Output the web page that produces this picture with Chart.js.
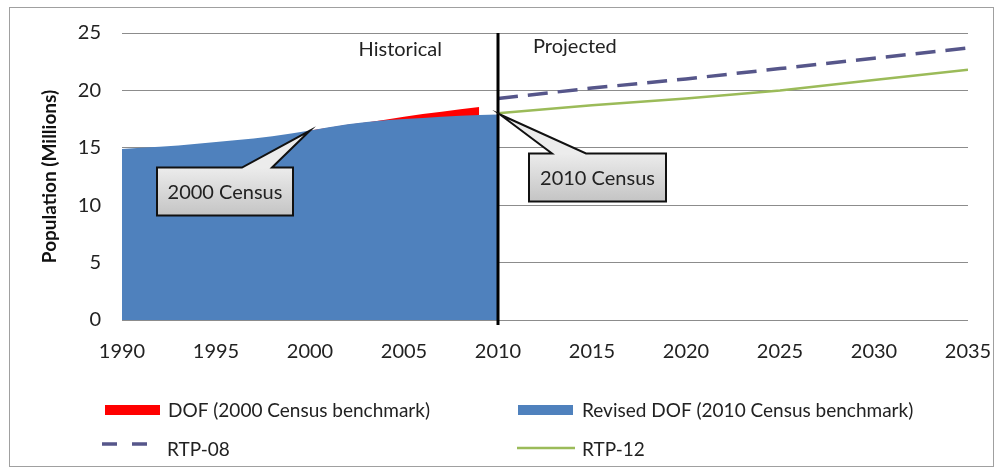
<!DOCTYPE html>
<html>
<head>
<meta charset="utf-8">
<script src="https://cdn.jsdelivr.net/npm/chart.js@4/dist/chart.umd.min.js"></script>
<style>
  body { margin: 0; background: #fff; }
  #wrap { width: 1001px; height: 475px; position: relative; }
</style>
</head>
<body>
<div id="wrap"><canvas id="popChart"></canvas></div>
<script>
// *** DATA ***
var histYears = [1990, 1991, 1992, 1993, 1994, 1995, 1996, 1997, 1998, 1999, 2000,
                 2001, 2002, 2003, 2004, 2005, 2006, 2007, 2008, 2009, 2010];
var revisedDof = [14.9, 15.0, 15.1, 15.2, 15.35, 15.5, 15.65, 15.8, 16.0, 16.25, 16.5,
                  16.8, 17.05, 17.25, 17.4, 17.5, 17.6, 17.7, 17.8, 17.85, 17.9];
var dofYears = [2000, 2001, 2002, 2003, 2004, 2005, 2006, 2007, 2008, 2009];
var dof2000 = [16.5, 16.75, 17.0, 17.2, 17.45, 17.7, 17.95, 18.15, 18.35, 18.55];
var projYears = [2010, 2015, 2020, 2025, 2030, 2035];
var rtp08 = [19.3, 20.2, 21.0, 21.9, 22.8, 23.7];
var rtp12 = [18.0, 18.7, 19.3, 20.0, 20.9, 21.8];

var FONT = "Lato";

function toPoints(xs, ys) {
    var pts = [];
    for (var i = 0; i < xs.length; i++) {
        pts.push({ x: xs[i], y: ys[i] });
    }
    return pts;
}

function valueAt(xs, ys, year) {
    return ys[xs.indexOf(year)];
}

// callout box with a wedge pointing at a data point
function drawCallout(ctx, tipX, tipY, box, wedge, label) {
    ctx.save();
    ctx.beginPath();
    ctx.moveTo(tipX + box.x0, tipY + box.y0);
    ctx.lineTo(tipX + wedge.a, tipY + box.y0);
    ctx.lineTo(tipX, tipY);
    ctx.lineTo(tipX + wedge.b, tipY + box.y0);
    ctx.lineTo(tipX + box.x1, tipY + box.y0);
    ctx.lineTo(tipX + box.x1, tipY + box.y1);
    ctx.lineTo(tipX + box.x0, tipY + box.y1);
    ctx.closePath();
    var grad = ctx.createLinearGradient(0, tipY + box.y0, 0, tipY + box.y1);
    grad.addColorStop(0, "#ececec");
    grad.addColorStop(1, "#c4c4c4");
    ctx.fillStyle = grad;
    ctx.fill();
    ctx.lineWidth = 2;
    ctx.strokeStyle = "#111";
    ctx.stroke();
    ctx.fillStyle = "#222";
    ctx.font = "20px " + FONT;
    ctx.textAlign = "center";
    ctx.textBaseline = "middle";
    ctx.fillText(label, tipX + (box.x0 + box.x1) / 2, tipY + (box.y0 + box.y1) / 2 + 1);
    ctx.restore();
}

var annotations = {
    id: "annotations",
    afterDatasetsDraw: function(chart) {
        var ctx = chart.ctx;
        var xs = chart.scales.x;
        var ys = chart.scales.y;
        var area = chart.chartArea;
        var x2010 = xs.getPixelForValue(2010);

        // divider historical / projected
        ctx.save();
        ctx.strokeStyle = "#000";
        ctx.lineWidth = 3;
        ctx.beginPath();
        ctx.moveTo(x2010, area.top);
        ctx.lineTo(x2010, area.bottom + 5);
        ctx.stroke();

        ctx.fillStyle = "#222";
        ctx.font = "20px " + FONT;
        ctx.textBaseline = "middle";
        ctx.textAlign = "center";
        ctx.fillText("Historical", xs.getPixelForValue(2004.8), area.top + 17);
        ctx.textAlign = "left";
        ctx.fillText("Projected", x2010 + 35, area.top + 14);
        ctx.restore();

        drawCallout(ctx, xs.getPixelForValue(2000), ys.getPixelForValue(valueAt(histYears, revisedDof, 2000)),
            { x0: -153, x1: -17, y0: 37, y1: 85 }, { a: -68, b: -38 }, "2000 Census");
        drawCallout(ctx, x2010 + 2, ys.getPixelForValue(valueAt(histYears, revisedDof, 2010)),
            { x0: 29, x1: 166, y0: 39, y1: 87 }, { a: 52, b: 86 }, "2010 Census");
    },
    afterDraw: function(chart) {
        var ctx = chart.ctx;
        var ds = chart.data.datasets;
        ctx.save();
        // outer frame
        ctx.strokeStyle = "#a0a0a0";
        ctx.lineWidth = 1;
        ctx.strokeRect(9.5, 7.5, 984, 459);

        // legend, two columns
        ctx.fillStyle = ds[1].backgroundColor;
        ctx.fillRect(105, 405, 55, 10);
        ctx.fillStyle = ds[0].backgroundColor;
        ctx.fillRect(518, 405, 55, 10);

        ctx.lineWidth = ds[2].borderWidth;
        ctx.strokeStyle = ds[2].borderColor;
        ctx.setLineDash([15, 15]);
        ctx.beginPath();
        ctx.moveTo(102, 444);
        ctx.lineTo(150, 444);
        ctx.stroke();
        ctx.setLineDash([]);
        ctx.lineWidth = ds[3].borderWidth;
        ctx.strokeStyle = ds[3].borderColor;
        ctx.beginPath();
        ctx.moveTo(517, 448);
        ctx.lineTo(575, 448);
        ctx.stroke();

        ctx.font = "19px " + FONT;
        ctx.fillStyle = "#222";
        ctx.textBaseline = "middle";
        ctx.textAlign = "left";
        ctx.fillText(ds[1].label, 168, 411);
        ctx.fillText(ds[0].label, 582, 411);
        ctx.fillText(ds[2].label, 167, 450);
        ctx.fillText(ds[3].label, 582, 450);
        ctx.restore();
    }
};

var popChart = new Chart(document.getElementById("popChart"), {
    type: "line",
    data: {
        datasets: [{
            label: "Revised DOF (2010 Census benchmark)",
            data: toPoints(histYears, revisedDof),
            backgroundColor: "#4f81bd",
            borderColor: "#4f81bd",
            borderWidth: 0,
            fill: "origin",
            pointRadius: 0,
            order: 1
        }, {
            label: "DOF (2000 Census benchmark)",
            data: toPoints(dofYears, dof2000),
            backgroundColor: "#ff0000",
            borderColor: "#ff0000",
            borderWidth: 0,
            fill: "origin",
            pointRadius: 0,
            order: 2
        }, {
            label: "RTP-08",
            data: toPoints(projYears, rtp08),
            borderColor: "#56568a",
            borderWidth: 3.5,
            borderDash: [20, 10],
            fill: false,
            pointRadius: 0,
            order: 0
        }, {
            label: "RTP-12",
            data: toPoints(projYears, rtp12),
            borderColor: "#9bbb59",
            borderWidth: 2.5,
            fill: false,
            pointRadius: 0,
            order: 0
        }]
    },
    options: {
        responsive: true,
        maintainAspectRatio: false,
        animation: false,
        layout: { padding: { left: 30, right: 33, top: 24, bottom: 91 } },
        plugins: {
            legend: { display: false },
            tooltip: { enabled: false }
        },
        scales: {
            x: {
                type: "linear",
                min: 1990,
                max: 2035,
                grid: { display: false, drawTicks: false },
                border: { display: false },
                ticks: {
                    stepSize: 5,
                    padding: 20,
                    color: "#222",
                    font: { family: FONT, size: 20 },
                    callback: function(v) { return String(v); }
                },
                afterFit: function(scale) {
                    scale.paddingLeft = 0;
                    scale.paddingRight = 0;
                }
            },
            y: {
                min: 0,
                max: 25,
                grid: { color: "#8c8c8c", drawTicks: false },
                border: { display: false },
                ticks: {
                    stepSize: 5,
                    padding: 21,
                    color: "#222",
                    font: { family: FONT, size: 20 }
                },
                title: {
                    display: true,
                    text: "Population (Millions)",
                    color: "#111",
                    font: { family: FONT, size: 19, weight: "bold" },
                    padding: { top: 8, bottom: 0 }
                },
                afterFit: function(scale) {
                    scale.width = 92;
                }
            }
        }
    },
    plugins: [annotations]
});
</script>
</body>
</html>
